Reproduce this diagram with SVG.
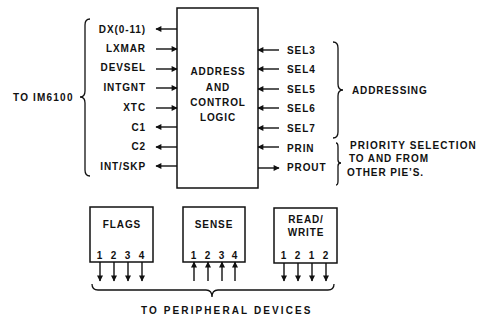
<svg xmlns="http://www.w3.org/2000/svg" width="481" height="320" viewBox="0 0 481 320">
<defs>
<marker id="ah" viewBox="0 0 10 10" refX="9" refY="5" markerWidth="7" markerHeight="6" markerUnits="userSpaceOnUse" orient="auto">
<path d="M0 0 L10 5 L0 10 Z" fill="#111"/>
</marker>
</defs>
<style>
text{font-family:"Liberation Sans",Arial,sans-serif;font-weight:bold;font-size:10px;fill:#111;letter-spacing:0.9px}
.box{fill:#fff;stroke:#111;stroke-width:1.5}
.ln{stroke:#111;stroke-width:1.4;fill:none}
.ar{stroke:#111;stroke-width:1.4;fill:none;marker-end:url(#ah)}
.br{stroke:#111;stroke-width:1.3;fill:none}
.e{text-anchor:end}
.m{text-anchor:middle}
</style>
<g id="main">
<rect class="box" x="177" y="8" width="81" height="180"/>
<text class="m" x="218" y="75">ADDRESS</text>
<text class="m" x="218" y="91">AND</text>
<text class="m" x="218" y="106">CONTROL</text>
<text class="m" x="218" y="121">LOGIC</text>
</g>
<g id="left-labels">
<text class="e" x="146" y="33">DX(0-11)</text>
<text class="e" x="146" y="52">LXMAR</text>
<text class="e" x="146" y="71">DEVSEL</text>
<text class="e" x="146" y="91">INTGNT</text>
<text class="e" x="146" y="111">XTC</text>
<text class="e" x="146" y="131">C1</text>
<text class="e" x="146" y="150">C2</text>
<text class="e" x="146" y="170">INT/SKP</text>
<text x="13" y="101" style="letter-spacing:1.2px">TO IM6100</text>
</g>
<g id="right-labels">
<text x="287" y="54">SEL3</text>
<text x="287" y="73">SEL4</text>
<text x="287" y="93">SEL5</text>
<text x="287" y="112">SEL6</text>
<text x="287" y="132">SEL7</text>
<text x="287" y="152">PRIN</text>
<text x="287" y="171">PROUT</text>
<text x="352" y="94">ADDRESSING</text>
<text x="350" y="149" style="letter-spacing:1.1px">PRIORITY SELECTION</text>
<text x="349" y="162">TO AND FROM</text>
<text x="347" y="176">OTHER PIE’S.</text>
</g>
<g id="flags">
<rect class="box" x="90" y="207" width="63" height="55"/>
<text class="m" x="122" y="228">FLAGS</text>
<text class="m" x="100" y="259">1</text>
<text class="m" x="114" y="259">2</text>
<text class="m" x="128" y="259">3</text>
<text class="m" x="142" y="259">4</text>
</g>
<g id="sense">
<rect class="box" x="183" y="207" width="62" height="55"/>
<text class="m" x="214" y="228">SENSE</text>
<text class="m" x="194" y="259">1</text>
<text class="m" x="208" y="259">2</text>
<text class="m" x="222" y="259">3</text>
<text class="m" x="235" y="259">4</text>
</g>
<g id="readwrite">
<rect class="box" x="274" y="208" width="63" height="55"/>
<text class="m" x="306" y="223">READ/</text>
<text class="m" x="306" y="236">WRITE</text>
<text class="m" x="284" y="259">1</text>
<text class="m" x="298" y="259">2</text>
<text class="m" x="312" y="259">1</text>
<text class="m" x="326" y="259">2</text>
</g>
<g id="connectors">
<path class="ar" d="M177 29 H156"/>
<path class="ar" d="M156 49 H177"/>
<path class="ar" d="M156 69 H177"/>
<path class="ar" d="M156 88 H177"/>
<path class="ar" d="M156 108 H177"/>
<path class="ar" d="M177 127 H156"/>
<path class="ar" d="M177 147 H156"/>
<path class="ar" d="M177 166 H156"/>
<path class="ar" d="M279 50 H258"/>
<path class="ar" d="M279 69 H258"/>
<path class="ar" d="M279 89 H258"/>
<path class="ar" d="M279 108 H258"/>
<path class="ar" d="M279 128 H258"/>
<path class="ar" d="M279 147 H258"/>
<path class="ar" d="M258 168 H279"/>
<path class="ar" d="M100 262 V281"/>
<path class="ar" d="M114 262 V281"/>
<path class="ar" d="M128 262 V281"/>
<path class="ar" d="M142 262 V281"/>
<path class="ar" d="M194 281 V262"/>
<path class="ar" d="M208 281 V262"/>
<path class="ar" d="M222 281 V262"/>
<path class="ar" d="M235 281 V262"/>
<path class="ar" d="M284 263 V281"/>
<path class="ar" d="M298 263 V281"/>
<path class="ar" d="M312 263 V281"/>
<path class="ar" d="M326 263 V281"/>
</g>
<g id="braces">
<path class="br" d="M90 19 Q85 19 85 25 L85 91 Q85 97 80 97 Q85 97 85 103 L85 170 Q85 176 90 176"/>
<path class="br" d="M333 42 Q338 42 338 48 L338 84 Q338 90 343 90 Q338 90 338 96 L338 132 Q338 138 333 138"/>
<path class="br" d="M336 143 Q338 143 338 147 L338 160 Q338 163 341 163 Q338 163 338 166 L338 181 Q338 185 336 185"/>
<path class="br" d="M92 284 Q92 290 98 290 L206 290 Q212 290 212 297 Q212 290 218 290 L328 290 Q334 290 334 284"/>
<text x="141" y="314" style="letter-spacing:2.1px">TO PERIPHERAL DEVICES</text>
</g>
</svg>
